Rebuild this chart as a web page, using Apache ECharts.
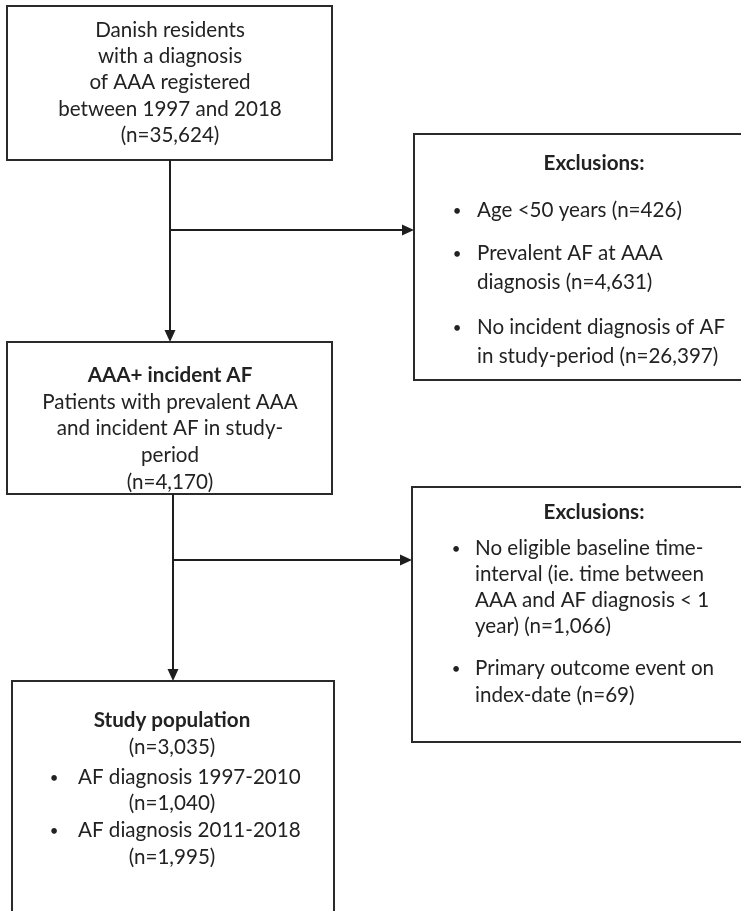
<!DOCTYPE html>
<html>
<head>
<meta charset="utf-8">
<script src="https://cdn.jsdelivr.net/npm/echarts@6/dist/echarts.min.js"></script>
<style>
html, body { margin: 0; padding: 0; background: #fff; }
#flow { width: 741px; height: 911px; }
</style>
</head>
<body>
<div id="flow"></div>
<script>
// counts from the flowchart
var cohortN = [35624, 4170, 3035];
var exclusion1N = [426, 4631, 26397];
var exclusion2N = [1066, 69];
var periodN = [1040, 1995];

function nTxt(v) { return '(n=' + v.toLocaleString('en-US') + ')'; }

var box1Lines = ['Danish residents', 'with a diagnosis', 'of AAA registered', 'between 1997 and 2018', nTxt(cohortN[0])];
var box3Title = 'AAA+ incident AF';
var box3Lines = ['Patients with prevalent AAA', 'and incident AF in study-', 'period', nTxt(cohortN[1])];
var box5Title = 'Study population';
var exclTitle = 'Exclusions:';
var excl1Items = [
  ['Age <50 years ' + nTxt(exclusion1N[0])],
  ['Prevalent AF at AAA', 'diagnosis ' + nTxt(exclusion1N[1])],
  ['No incident diagnosis of AF', 'in study-period ' + nTxt(exclusion1N[2])]
];
var excl2Items = [
  ['No eligible baseline time-', 'interval (ie. time between', 'AAA and AF diagnosis < 1', 'year) ' + nTxt(exclusion2N[0])],
  ['Primary outcome event on', 'index-date ' + nTxt(exclusion2N[1])]
];
var periodItems = [['AF diagnosis 1997-2010', nTxt(periodN[0])], ['AF diagnosis 2011-2018', nTxt(periodN[1])]];

// layout in page units (x: 0..741, y: 0..911 top-down)
var boxes = [
  [7, 6, 332, 160],
  [414, 134, 743, 380],
  [7, 342, 332, 494],
  [412, 487, 743, 742],
  [12, 681, 334, 920]
];
// x0, y0, x1, y1
var connectors = [
  [170, 160, 170, 342],
  [170, 230, 414, 230],
  [173, 494, 173, 681],
  [173, 560, 412, 560]
];

var FONT = 'Lato, "Open Sans", sans-serif';
var SIZE = 20.6;
var ink = '#222';
var texts = [];
function put(x, y, t, bold, align, size) {
  texts.push({ x: x, y: y, t: t, bold: !!bold, align: align || 'center', size: size || SIZE });
}
function bullet(x, y) { put(x, y + 1, '•', false, 'center', 15); }

box1Lines.forEach(function (t, i) { put(170, 30 + i * 26.3, t); });

put(170, 375, box3Title, true);
box3Lines.forEach(function (t, i) { put(170, 402 + i * 26.7, t); });

put(594, 163, exclTitle, true);
var excl1Y = [[210], [253, 282], [327, 356]];
excl1Items.forEach(function (item, k) {
  bullet(457, excl1Y[k][0]);
  item.forEach(function (t, j) { put(477, excl1Y[k][j], t, false, 'left'); });
});

put(594, 512, exclTitle, true);
var excl2Y = [[548, 574, 600, 626], [668, 695]];
excl2Items.forEach(function (item, k) {
  bullet(456, excl2Y[k][0]);
  item.forEach(function (t, j) { put(475, excl2Y[k][j], t, false, 'left'); });
});

put(172, 720, box5Title, true);
put(172, 747, nTxt(cohortN[2]));
var periodY = [[777, 803], [830, 857]];
periodItems.forEach(function (item, k) {
  bullet(54, periodY[k][0]);
  put(78, periodY[k][0], item[0], false, 'left');
  put(172, periodY[k][1], item[1]);
});

var chart = echarts.init(document.getElementById('flow'));
var option = {
  animation: false,
  backgroundColor: '#fff',
  grid: { left: 0, right: 0, top: 0, bottom: 0 },
  xAxis: { type: 'value', min: 0, max: 741, show: false },
  yAxis: { type: 'value', min: 0, max: 911, inverse: true, show: false },
  series: [
    {
      type: 'custom',
      clip: false,
      data: boxes,
      renderItem: function (params, api) {
        var a = api.coord([api.value(0), api.value(1)]);
        var b = api.coord([api.value(2), api.value(3)]);
        return {
          type: 'rect',
          shape: { x: a[0], y: a[1], width: b[0] - a[0], height: b[1] - a[1] },
          style: { fill: '#fff', stroke: '#2a2a2a', lineWidth: 2 }
        };
      }
    },
    {
      type: 'custom',
      clip: false,
      data: connectors,
      renderItem: function (params, api) {
        var a = api.coord([api.value(0), api.value(1)]);
        var b = api.coord([api.value(2), api.value(3)]);
        var dx = b[0] - a[0], dy = b[1] - a[1];
        var len = Math.sqrt(dx * dx + dy * dy);
        var ux = dx / len, uy = dy / len;
        var hl = 12, hw = 5.5;
        var base = [b[0] - ux * hl, b[1] - uy * hl];
        return {
          type: 'group',
          children: [
            {
              type: 'line',
              shape: { x1: a[0], y1: a[1], x2: base[0], y2: base[1] },
              style: { stroke: '#1e1e1e', lineWidth: 2 }
            },
            {
              type: 'polygon',
              shape: { points: [b, [base[0] - uy * hw, base[1] + ux * hw], [base[0] + uy * hw, base[1] - ux * hw]] },
              style: { fill: '#1e1e1e' }
            }
          ]
        };
      }
    },
    {
      type: 'custom',
      clip: false,
      data: texts.map(function (d) { return [d.x, d.y]; }),
      renderItem: function (params, api) {
        var d = texts[params.dataIndex];
        var p = api.coord([api.value(0), api.value(1)]);
        return {
          type: 'text',
          x: p[0],
          y: p[1],
          style: {
            text: d.t,
            fill: ink,
            font: (d.bold ? 'bold ' : '') + d.size + 'px ' + FONT,
            textAlign: d.align,
            textVerticalAlign: 'middle'
          }
        };
      }
    }
  ]
};
chart.setOption(option);
</script>
</body>
</html>
